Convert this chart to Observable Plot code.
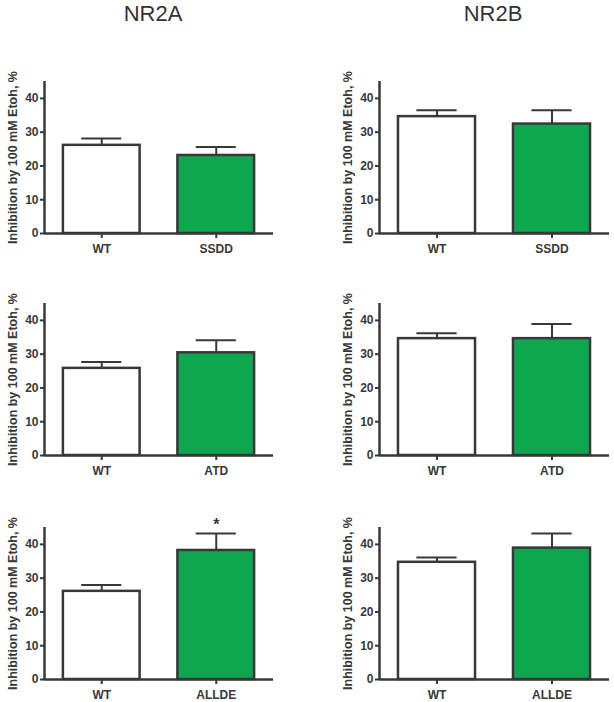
<!DOCTYPE html>
<html>
<head>
<meta charset="utf-8">
<script src="https://cdn.jsdelivr.net/npm/d3@7"></script>
<script src="https://cdn.jsdelivr.net/npm/@observablehq/plot@0.6"></script>
<style>
  html, body { margin: 0; padding: 0; background: #fff; }
  #wrap { position: relative; width: 614px; height: 702px; overflow: hidden; font-family: "Liberation Sans", Arial, sans-serif; }
  .title { position: absolute; top: 3px; width: 200px; text-align: center; font-size: 22px; line-height: 1; color: #333; }
  .panel { position: absolute; }
</style>
</head>
<body>
<div id="wrap"></div>
<script>
// ---- data ----
const genes = ["NR2A", "NR2B"];
const rowMutants = ["SSDD", "ATD", "ALLDE"];
const nr2aWT = [26.1, 25.8, 26.1];
const nr2aWTErr = [28.1, 27.7, 28.0];
const nr2aMut = [23.1, 30.4, 38.2];
const nr2aMutErr = [25.6, 34.1, 43.2];
const nr2aSig = ["", "", "*"];
const nr2bWT = [34.6, 34.6, 34.7];
const nr2bWTErr = [36.5, 36.2, 36.1];
const nr2bMut = [32.4, 34.6, 38.9];
const nr2bMutErr = [36.5, 38.9, 43.2];
const nr2bSig = ["", "", ""];
const yTicks = [0, 10, 20, 30, 40];
const yLabel = "Inhibition by 100 mM Etoh, %";
const barFills = ["#ffffff", "#0fa650"];

const ink = "#383838";
const wrap = document.getElementById("wrap");

// titles
const titleCenters = [153, 493];
genes.forEach((g, k) => {
  const d = document.createElement("div");
  d.className = "title";
  d.textContent = g;
  d.style.left = (titleCenters[k] - 100) + "px";
  wrap.appendChild(d);
});

function panel(cats, means, errs, sigs, ml, mr) {
  const data = cats.map((c, i) => ({i, c, v: means[i], e: errs[i], s: sigs[i], f: barFills[i]}));
  return Plot.plot({
    width: 307, height: 210,
    marginTop: 31, marginBottom: 27, marginLeft: ml, marginRight: mr,
    x: {type: "linear", domain: [-0.5, 1.5], axis: null},
    y: {domain: [0, 45], axis: null},
    color: {type: "identity"},
    style: {fontFamily: "'Liberation Sans', Arial, sans-serif", color: ink, background: "transparent", overflow: "visible"},
    marks: [
      Plot.ruleX(data, {x: "i", y1: "v", y2: "e", stroke: ink, strokeWidth: 2}),
      Plot.ruleY(data, {y: "e", x1: d => d.i - 0.175, x2: d => d.i + 0.175, stroke: ink, strokeWidth: 2}),
      Plot.rectY(data, {x1: d => d.i - 0.335, x2: d => d.i + 0.335, y1: 0, y2: "v", fill: "f", stroke: ink, strokeWidth: 2.5}),
      Plot.axisY({ticks: yTicks, tickSize: 4, tickPadding: 2, fontSize: 12, fontWeight: "bold", stroke: ink, strokeWidth: 2, label: null}),
      Plot.axisX({ticks: [0, 1], tickFormat: i => cats[i], tickSize: 5, tickPadding: 6, fontSize: 12, fontWeight: "bold", stroke: ink, strokeWidth: 2, label: null}),
      Plot.ruleY([0], {stroke: ink, strokeWidth: 2.5}),
      Plot.ruleX([-0.5], {y1: 0, y2: 45, stroke: ink, strokeWidth: 2.5}),
      Plot.text([yLabel], {frameAnchor: "left", rotate: -90, dx: -32, fontSize: 12.5, fontWeight: "bold", fill: ink, textAnchor: "middle"}),
      Plot.text(data.filter(d => d.s), {x: "i", y: "e", text: "s", dy: -4, lineAnchor: "bottom", fontSize: 16, fontWeight: "bold", fill: ink})
    ]
  });
}

const rowTops = [50, 272, 496];
rowMutants.forEach((m, r) => {
  const cats = ["WT", m];
  const left = panel(cats, [nr2aWT[r], nr2aMut[r]], [nr2aWTErr[r], nr2aMutErr[r]], ["", nr2aSig[r]], 44, 34);
  left.classList.add("panel");
  left.style.left = "0px"; left.style.top = rowTops[r] + "px";
  wrap.appendChild(left);
  const right = panel(cats, [nr2bWT[r], nr2bMut[r]], [nr2bWTErr[r], nr2bMutErr[r]], ["", nr2bSig[r]], 72, 5);
  right.classList.add("panel");
  right.style.left = "307px"; right.style.top = rowTops[r] + "px";
  wrap.appendChild(right);
});
</script>
</body>
</html>
